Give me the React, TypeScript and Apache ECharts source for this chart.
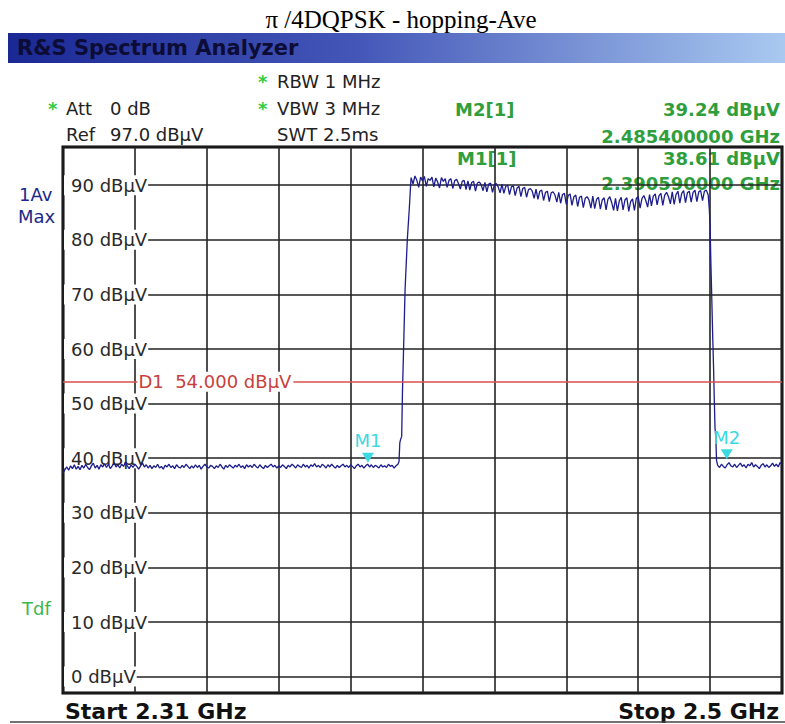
import React, { useEffect, useRef } from 'react';
import * as echarts from 'echarts';

// Frequency span (MHz) and sweep grid
const START_MHZ = 2310;
const STOP_MHZ = 2500;
const DIV_MHZ = 19;
const STEP_MHZ = 0.5;

// Level axis (dBµV)
const REF_LEVEL = 97;
const BOTTOM_LEVEL = -3;
const DISPLAY_LINE = 54;

// Noise floor below the band: 2310.0 .. 2398.5 MHz, 0.5 MHz steps
const lowNoise = [
  37.3, 37.9, 38.4, 37.8, 38.6, 38.1, 38.8, 38.0, 38.5, 37.9,
  38.7, 38.2, 38.9, 38.3, 37.9, 38.6, 39.1, 38.2, 38.7, 38.0,
  38.8, 38.4, 39.0, 38.3, 38.9, 38.1, 38.6, 39.2, 38.4, 38.8,
  38.2, 38.9, 38.5, 39.3, 38.6, 38.1, 38.8, 38.3, 38.9, 38.5,
  38.0, 38.6, 39.1, 38.4, 38.8, 38.2, 38.7, 38.1, 38.6, 38.3,
  38.9, 38.2, 38.5, 38.0, 38.7, 38.4, 38.9, 38.3, 38.6, 38.1,
  38.8, 38.4, 38.2, 38.7, 38.3, 38.9, 38.5, 38.1, 38.6, 38.2,
  38.8, 38.3, 38.7, 38.0, 38.5, 38.9, 38.4, 38.2, 38.7, 38.5,
  38.1, 38.6, 38.3, 38.9, 38.4, 38.0, 38.7, 38.3, 38.8, 38.5,
  38.2, 38.7, 38.4, 38.9, 38.3, 38.6, 38.1, 38.8, 38.4, 38.7,
  38.3, 38.9, 38.5, 38.2, 38.8, 38.4, 38.1, 38.7, 38.3, 38.6,
  38.9, 38.4, 38.7, 38.2, 38.6, 38.3, 38.8, 38.5, 38.1, 38.7,
  38.4, 38.9, 38.6, 38.2, 38.8, 38.5, 38.3, 38.9, 38.4, 38.7,
  38.2, 38.8, 38.5, 39.0, 38.4, 38.7, 38.3, 38.9, 38.6, 38.2,
  38.8, 38.4, 38.9, 38.5, 38.2, 38.7, 38.3, 38.6, 38.9, 38.4,
  38.7, 38.3, 38.8, 38.5, 38.1, 38.6, 38.9, 38.4, 38.7, 38.2,
  38.6, 38.9, 38.4, 38.8, 38.3, 38.7, 38.5, 38.2, 38.8, 38.4,
  38.6, 38.3, 38.9, 38.5, 38.7, 38.2, 38.6, 38.9,
];

// Rising edge
const riseFreq = [2398.8, 2399.0, 2399.2, 2399.5, 2399.7, 2400.0, 2400.4, 2401.0, 2401.5, 2401.9];
const riseLevel = [39.4, 42.8, 43.4, 44.0, 52.0, 60.0, 71.0, 80.2, 85.6, 90.5];

// Hopping band top: 2402.0 .. 2480.5 MHz, 0.5 MHz steps
const BAND_START_MHZ = 2402.0;
const bandLevel = [
  91.4, 90.2, 91.7, 90.9, 89.6, 91.5, 90.8, 91.6, 89.8, 91.2,
  90.9, 91.5, 89.7, 91.3, 90.6, 89.5, 91.4, 90.7, 91.2, 89.6,
  90.9, 91.2, 89.4, 90.8, 91.1, 90.3, 89.3, 90.7, 90.9, 89.2,
  90.8, 89.1, 90.5, 90.7, 88.9, 90.4, 90.6, 90.1, 89.0, 90.5,
  88.8, 90.2, 90.4, 88.7, 90.1, 90.3, 89.7, 88.6, 90.2, 88.5,
  89.8, 90.0, 88.3, 89.7, 89.9, 88.1, 89.5, 89.8, 87.9, 89.4,
  89.6, 87.8, 89.2, 89.4, 88.9, 87.6, 89.3, 87.4, 88.9, 89.1,
  87.2, 88.7, 88.9, 87.0, 88.6, 88.8, 88.2, 86.9, 88.7, 86.7,
  88.3, 88.5, 86.5, 88.1, 88.4, 86.3, 87.9, 88.2, 86.1, 87.8,
  88.0, 85.9, 87.6, 87.9, 87.3, 85.8, 88.0, 85.7, 87.4, 87.8,
  85.6, 87.3, 87.7, 85.5, 87.4, 87.9, 86.8, 85.4, 87.6, 85.3,
  87.1, 87.8, 85.5, 87.3, 87.7, 85.2, 87.0, 87.5, 85.4, 87.6,
  87.9, 85.8, 87.6, 88.1, 87.2, 86.0, 88.3, 86.2, 88.0, 88.4,
  86.4, 88.1, 88.5, 86.3, 88.2, 88.7, 87.9, 86.6, 88.8, 86.5,
  88.3, 88.9, 86.7, 88.5, 89.0, 86.8, 88.6, 88.9, 86.9, 88.7,
  89.1, 87.0, 88.8, 89.0, 87.2, 88.9, 89.1, 88.2,
];

// Falling edge
const fallFreq = [2480.8, 2481.0, 2481.2, 2481.4, 2481.7, 2481.9, 2482.1, 2482.3, 2482.5, 2482.7];
const fallLevel = [85.5, 82.5, 76.0, 70.5, 62.0, 57.0, 51.0, 45.5, 44.0, 39.6];

// Noise floor above the band: 2483.0 .. 2500.0 MHz, 0.5 MHz steps
const HIGH_START_MHZ = 2483.0;
const highNoise = [
  38.7, 38.3, 38.9, 38.5, 38.2, 38.8, 39.2, 38.6, 38.4, 38.9,
  38.3, 38.7, 39.1, 38.5, 38.8, 38.2, 38.9, 38.6, 39.2, 38.4,
  38.8, 38.5, 38.1, 38.7, 39.0, 38.4, 38.8, 38.3, 38.6, 39.1,
  38.5, 38.9, 38.4, 39.2, 38.8,
];

// Markers
const markerNames = ['M1', 'M2'];
const markerFreqMHz = [2390.59, 2485.4];
const markerLevel = [38.61, 39.24];

const FONT = '"DejaVu Sans", Verdana, sans-serif';
const GREEN = '#2f9e3c';
const STAR = '#2ecc40';
const CYAN = '#3dd8e2';
const TRACE = '#1c1c8c';
const RED = '#d8504e';

export default function App() {
  const ref = useRef<HTMLDivElement>(null);

  useEffect(() => {
    const chart = echarts.init(ref.current!, null, { renderer: 'svg' });

    const trace: number[][] = [];
    lowNoise.forEach((v, i) => trace.push([i * STEP_MHZ, v]));
    riseFreq.forEach((f, i) => trace.push([f - START_MHZ, riseLevel[i]]));
    bandLevel.forEach((v, i) => trace.push([BAND_START_MHZ + i * STEP_MHZ - START_MHZ, v]));
    fallFreq.forEach((f, i) => trace.push([f - START_MHZ, fallLevel[i]]));
    highNoise.forEach((v, i) => trace.push([HIGH_START_MHZ + i * STEP_MHZ - START_MHZ, v]));

    const txt = (text: string, x: number, y: number, fill: string, size: number, opts: any = {}) => ({
      type: 'text',
      x,
      y,
      silent: true,
      style: {
        text,
        fill,
        font: `${opts.weight || 'normal'} ${size}px ${opts.family || FONT}`,
        textAlign: opts.align || 'left',
        align: opts.align || 'left',
        textVerticalAlign: 'middle',
        verticalAlign: 'middle',
      },
    });

    const option: any = {
      animation: false,
      backgroundColor: '#ffffff',
      grid: {
        left: 63,
        right: 3,
        top: 147,
        bottom: 31,
        show: true,
        borderColor: '#000',
        borderWidth: 3,
        backgroundColor: '#fff',
      },
      xAxis: {
        type: 'value',
        min: 0,
        max: STOP_MHZ - START_MHZ,
        interval: DIV_MHZ,
        axisLine: { show: false },
        axisTick: { show: false },
        axisLabel: { show: false },
        splitLine: { show: true, lineStyle: { color: '#222', width: 1.6 } },
      },
      yAxis: {
        type: 'value',
        min: BOTTOM_LEVEL,
        max: REF_LEVEL,
        splitNumber: 10,
        axisLine: { show: false },
        axisTick: { show: false },
        splitLine: { show: true, lineStyle: { color: '#222', width: 1.6 } },
        axisLabel: {
          inside: true,
          margin: 1,
          color: '#2a2a2a',
          fontSize: 18,
          fontFamily: FONT,
          backgroundColor: '#fff',
          padding: [1, 1, 1, 7],
          formatter: (v: number) => (v % 10 === 0 ? `${v} dBµV` : ''),
          showMinLabel: false,
          showMaxLabel: false,
        },
      },
      series: [
        {
          type: 'line',
          data: trace,
          symbol: 'none',
          lineStyle: { color: TRACE, width: 1.3 },
          z: 3,
          markLine: {
            silent: true,
            symbol: 'none',
            label: { show: false },
            lineStyle: { color: RED, width: 1.5, type: 'solid' },
            data: [{ yAxis: DISPLAY_LINE }],
          },
          markPoint: {
            silent: true,
            data: [
              ...markerNames.map((n, i) => ({
                name: n,
                coord: [markerFreqMHz[i] - START_MHZ, markerLevel[i]],
                symbol: 'path://M0,0 L12,0 L6,10 Z',
                symbolSize: [12, 10],
                symbolOffset: [0, -8],
                itemStyle: { color: CYAN },
                label: {
                  show: true,
                  position: 'top',
                  distance: 3,
                  formatter: n,
                  color: CYAN,
                  fontSize: 18,
                  fontFamily: FONT,
                },
              })),
              {
                name: 'D1',
                coord: [DIV_MHZ, DISPLAY_LINE],
                symbol: 'circle',
                symbolSize: 1,
                itemStyle: { color: 'rgba(0,0,0,0)' },
                label: {
                  show: true,
                  position: 'right',
                  distance: 2,
                  formatter: `D1  ${DISPLAY_LINE.toFixed(3)} dBµV`,
                  color: '#c8403c',
                  fontSize: 18,
                  fontFamily: FONT,
                  backgroundColor: '#fff',
                  padding: [1, 2, 1, 1],
                },
              },
            ],
          },
        },
      ],
      graphic: [
        txt('π /4DQPSK - hopping-Ave', 401, 19, '#000', 25, { family: '"Liberation Serif", "Times New Roman", serif', align: 'center' }),
        {
          type: 'rect',
          silent: true,
          shape: { x: 8, y: 33, width: 777, height: 30 },
          style: {
            fill: new echarts.graphic.LinearGradient(0, 0, 1, 0, [
              { offset: 0, color: '#1a2894' },
              { offset: 0.45, color: '#4457b8' },
              { offset: 1, color: '#a9c9f0' },
            ]),
          },
        },
        txt('R&S Spectrum Analyzer', 17, 48, '#0c0c34', 21, { weight: 'bold' }),
        txt('*', 258, 81, STAR, 18, { weight: 'bold' }),
        txt('RBW 1 MHz', 277, 81, '#222', 18),
        txt('*', 48, 108, STAR, 18, { weight: 'bold' }),
        txt('Att', 66, 108, '#222', 18),
        txt('0 dB', 110, 108, '#222', 18),
        txt('*', 258, 108, STAR, 18, { weight: 'bold' }),
        txt('VBW 3 MHz', 277, 108, '#222', 18),
        txt('Ref', 66, 134, '#222', 18),
        txt('97.0 dBµV', 110, 134, '#222', 18),
        txt('SWT 2.5ms', 277, 134, '#222', 18),
        txt('M2[1]', 455, 109, GREEN, 18, { weight: 'bold' }),
        txt('39.24 dBµV', 780, 109, GREEN, 18, { weight: 'bold', align: 'right' }),
        txt('2.485400000 GHz', 780, 136, GREEN, 18, { weight: 'bold', align: 'right' }),
        txt('M1[1]', 457, 158, GREEN, 18, { weight: 'bold' }),
        txt('38.61 dBµV', 780, 158, GREEN, 18, { weight: 'bold', align: 'right' }),
        txt('2.390590000 GHz', 780, 183, GREEN, 18, { weight: 'bold', align: 'right' }),
        txt('1Av', 19, 194, '#20288a', 18),
        txt('Max', 18, 216, '#20288a', 18),
        txt('Tdf', 22, 608, '#3cb84a', 18),
        txt('Start 2.31 GHz', 65, 711, '#111', 22, { weight: 'bold' }),
        txt('Stop 2.5 GHz', 779, 711, '#111', 22, { weight: 'bold', align: 'right' }),
        {
          type: 'line',
          silent: true,
          shape: { x1: 10, y1: 722, x2: 785, y2: 722 },
          style: { stroke: '#444', lineWidth: 1.5 },
        },
      ],
    };

    chart.setOption(option);
    return () => chart.dispose();
  }, []);

  return (
    <div
      ref={ref}
      style={{ position: 'absolute', left: 0, top: 0, width: 785, height: 724, background: '#fff' }}
    />
  );
}
